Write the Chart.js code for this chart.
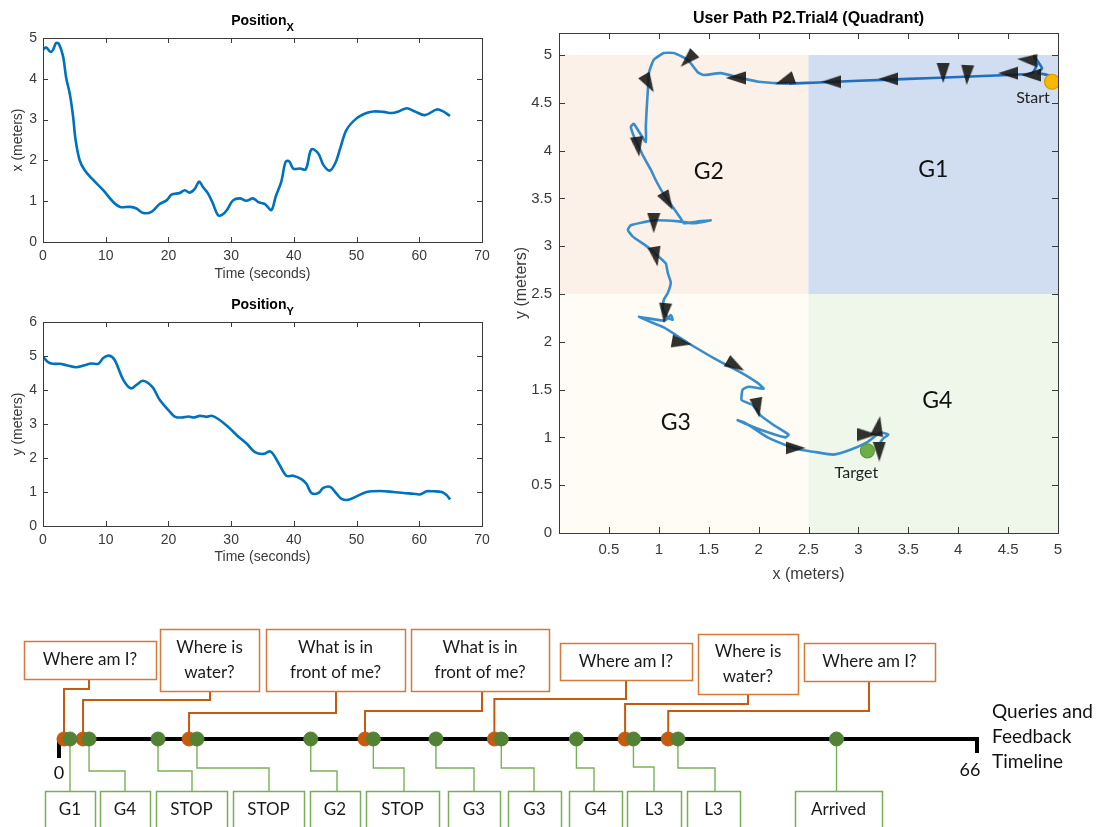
<!DOCTYPE html>
<html><head><meta charset="utf-8">
<script src="https://cdn.jsdelivr.net/npm/chart.js@4.4.1/dist/chart.umd.min.js"></script>
<style>
html,body{margin:0;padding:0;background:#fff;width:1099px;height:827px;overflow:hidden}
.c{position:absolute}
</style></head><body>
<div class="c" style="left:0;top:0;width:500px;height:290px"><canvas id="cx"></canvas></div>
<div class="c" style="left:0;top:290px;width:500px;height:290px"><canvas id="cy"></canvas></div>
<div class="c" style="left:500px;top:0;width:599px;height:600px"><canvas id="cp"></canvas></div>
<div class="c" style="left:0;top:600px;width:1099px;height:227px"><canvas id="ct"></canvas></div>
<script>
// ---------------- DATA ----------------
const timeX = [0,0.5,1.2,1.6,2.1,2.55,3.2,3.7,4.3,4.8,5.2,5.85,6.65,8.0,9.6,11.2,12.3,13.9,14.9,16.0,17.3,18.6,19.7,20.5,21.8,22.6,23.4,24.2,24.9,25.5,26.3,27.1,27.9,28.6,29.4,30.3,31.4,32.4,33.5,34.3,35.4,36.4,37.1,38.0,38.7,39.3,39.9,41.0,41.9,42.8,43.9,44.7,45.7,46.6,47.4,48.4,50.0,51.6,52.7,54.3,55.6,56.7,58.0,59.3,60.9,62.8,63.8,64.9];
const posX = [4.71,4.77,4.66,4.71,4.88,4.85,4.55,4.02,3.61,3.07,2.5,2.0,1.76,1.52,1.27,0.98,0.86,0.86,0.82,0.71,0.74,0.93,1.02,1.16,1.20,1.27,1.21,1.30,1.48,1.35,1.19,0.94,0.66,0.67,0.80,1.02,1.07,1.01,1.07,0.98,0.93,0.78,1.11,1.48,1.97,1.97,1.80,1.80,1.78,2.27,2.17,1.89,1.75,1.93,2.30,2.75,3.03,3.16,3.20,3.19,3.16,3.20,3.28,3.20,3.11,3.25,3.20,3.09];
const timeY = [0,0.8,1.6,2.7,3.7,5.3,6.65,7.7,8.8,9.6,10.5,11.4,12.8,14.0,14.9,15.9,16.8,17.6,18.6,20.0,21.0,22.1,23.2,24.0,25.0,26.1,26.9,28.0,29.5,30.9,32.5,33.8,35.1,36.3,37.5,38.8,39.9,41.2,42.0,42.8,43.9,44.7,45.8,46.8,47.6,48.7,50.0,51.6,53.8,55.9,57.5,59.1,60.1,61.2,62.2,63.6,64.4,64.9];
const posY = [4.98,4.82,4.77,4.77,4.73,4.67,4.73,4.78,4.77,4.94,5.01,4.89,4.30,4.05,4.15,4.27,4.20,4.05,3.71,3.41,3.22,3.19,3.22,3.19,3.24,3.21,3.24,3.14,2.92,2.67,2.42,2.17,2.12,2.19,1.87,1.48,1.48,1.38,1.24,0.97,0.97,1.12,1.15,0.95,0.80,0.77,0.87,1.00,1.03,1.00,0.97,0.95,0.93,1.02,1.02,1.00,0.90,0.78];
const timeTicks = [0,10,20,30,40,50,60,70];

const pathX = [4.93,4.86,4.80,4.84,4.76,4.79,4.74,4.50,4.00,3.50,3.00,2.54,2.30,2.00,1.82,1.62,1.45,1.39,1.29,1.15,1.05,0.95,0.90,0.89,0.88,0.87,0.87,0.80,0.75,0.72,0.75,0.80,0.84,0.92,0.97,1.04,1.14,1.22,1.25,1.40,1.52,1.35,1.20,0.95,0.72,0.69,0.74,0.89,1.00,1.07,1.09,1.12,1.09,1.05,1.04,1.09,1.14,1.12,1.06,0.80,1.05,1.29,1.55,1.82,1.99,2.05,1.90,1.84,1.83,1.94,2.02,2.15,2.30,2.27,2.02,1.79,1.87,2.09,2.32,2.42,2.55,2.75,2.92,3.09,3.22,3.30,3.25,3.22];
const pathY = [4.78,4.80,4.81,4.86,4.99,4.90,4.81,4.79,4.77,4.75,4.73,4.71,4.70,4.72,4.76,4.81,4.79,4.82,4.95,5.02,5.02,4.95,4.81,4.63,4.46,4.25,4.09,4.20,4.28,4.25,4.15,4.04,3.95,3.80,3.69,3.56,3.41,3.29,3.24,3.26,3.27,3.24,3.26,3.27,3.22,3.17,3.10,2.99,2.89,2.82,2.72,2.62,2.51,2.44,2.35,2.25,2.23,2.28,2.22,2.26,2.15,1.99,1.83,1.68,1.57,1.51,1.53,1.50,1.39,1.34,1.23,1.13,1.03,1.00,1.08,1.18,1.15,1.00,0.90,0.87,0.85,0.82,0.87,0.95,1.05,1.03,0.99,0.95];
const arrowX = [4.69,4.73,4.50,4.09,3.85,3.30,2.73,2.26,1.77,1.29,0.90,0.79,1.09,0.95,0.97,1.06,1.23,1.77,1.99,2.37,3.09,3.20,3.21];
const arrowY = [4.95,4.79,4.81,4.79,4.81,4.75,4.72,4.73,4.76,4.95,4.70,4.04,3.47,3.24,2.89,2.30,1.99,1.75,1.31,0.89,1.03,1.12,0.85];
const arrowAngle = [275,270,270,183,180,270,270,250,270,225,150,172,150,180,170,185,100,120,170,90,90,10,180];
const startPoint = [4.94,4.72];
const targetPoint = [3.09,0.86];
const quadBounds = [0,2.5,5];
const quadNames = ['G2','G1','G3','G4'];
const quadLabelX = [1.50,3.75,1.17,3.79];
const quadLabelY = [3.78,3.80,1.15,1.39];

const timelineEnd = 66;
const queryTimes = [0.36,1.73,9.35,22.0,31.3,40.7,43.8];
const queryLabels = ['Where am I?','Where is\nwater?','What is in\nfront of me?','What is in\nfront of me?','Where am I?','Where is\nwater?','Where am I?'];
const feedbackTimes = [0.79,2.16,7.12,9.92,18.1,22.6,27.1,31.8,37.2,41.3,44.5,55.9];
const feedbackLabels = ['G1','G4','STOP','STOP','G2','STOP','G3','G3','G4','L3','L3','Arrived'];

// ---------------- LAYOUT (page px, annotations) ----------------
const queryBoxes = [[24,641,156,679],[160,629,259,691],[266,629,405,691],[411,629,549,691],[560,643,692,680],[698,634,798,694],[804,643,935,681]];
const queryElbows = [[689,89],[700,210],[713,336],[711,482],[699,626],[704,748],[711,869]];
const feedbackBoxes = [[45,95],[100,150],[156,227],[233,304],[310,360],[366,439],[448,500],[508,561],[569,622],[627,681],[687,740],[795,882]];
const feedbackElbows = [null,[771,125],[771,192],[768,269],[771,337],[768,404],[768,474],[768,534],[768,594],[767,654],[768,715],null];

// ---------------- COMMON ----------------
Chart.defaults.font.family = "'Liberation Sans', Arial, sans-serif";
Chart.defaults.color = '#3a3a3a';
Chart.defaults.animation = false;
Chart.defaults.events = [];
Chart.defaults.plugins.legend.display = false;
Chart.defaults.plugins.tooltip.enabled = false;

const fmt = v => String(Number(Number(v).toFixed(2)));

const matlabBox = {
  id: 'matlabBox',
  afterDatasetsDraw(chart, args, o) {
    const {ctx, chartArea: a, scales: {x, y}} = chart;
    const L = o.len || 5;
    ctx.save();
    ctx.strokeStyle = '#3a3a3a'; ctx.lineWidth = 1;
    ctx.beginPath();
    x.ticks.forEach(t => { const p = Math.round(x.getPixelForValue(t.value)) + 0.5;
      ctx.moveTo(p, a.bottom); ctx.lineTo(p, a.bottom - L); ctx.moveTo(p, a.top); ctx.lineTo(p, a.top + L); });
    y.ticks.forEach(t => { const p = Math.round(y.getPixelForValue(t.value)) + 0.5;
      ctx.moveTo(a.left, p); ctx.lineTo(a.left + L, p); ctx.moveTo(a.right, p); ctx.lineTo(a.right - L, p); });
    ctx.stroke();
    ctx.strokeRect(Math.round(a.left) + 0.5, Math.round(a.top) + 0.5, Math.round(a.right - a.left), Math.round(a.bottom - a.top));
    ctx.restore();
  }
};

const subTitle = {
  id: 'subTitle',
  afterDraw(chart, args, o) {
    const {ctx, chartArea: a} = chart;
    ctx.save(); ctx.fillStyle = '#000'; ctx.textAlign = 'left'; ctx.textBaseline = 'alphabetic';
    const f1 = "bold 14px 'Liberation Sans'", f2 = "bold 11px 'Liberation Sans'";
    ctx.font = f1; const w1 = ctx.measureText(o.main).width;
    ctx.font = f2; const w2 = ctx.measureText(o.sub).width;
    const x0 = (a.left + a.right) / 2 - (w1 + w2) / 2;
    ctx.font = f1; ctx.fillText(o.main, x0, o.y);
    ctx.font = f2; ctx.fillText(o.sub, x0 + w1, o.y + 6);
    ctx.restore();
  }
};

function posChart(id, times, vals, ymax, axisLabel, sub, cfg) {
  return new Chart(document.getElementById(id), {
    type: 'scatter',
    data: { datasets: [{ data: times.map((t, i) => ({x: t, y: vals[i]})), showLine: true, borderColor: '#0072BD',
      borderWidth: 2.6, pointRadius: 0, tension: 0.35, fill: false }] },
    options: {
      responsive: true, maintainAspectRatio: false,
      layout: { padding: { top: cfg.top, right: 18, left: 0, bottom: 0 } },
      scales: {
        x: { type: 'linear', min: 0, max: 70,
          afterBuildTicks: s => { s.ticks = timeTicks.map(v => ({value: v})); },
          ticks: { padding: 6, autoSkip: false, maxRotation: 0, font: {size: 14}, color: '#3a3a3a', callback: fmt },
          grid: { display: false, drawTicks: false }, border: { display: false },
          title: { display: true, text: 'Time (seconds)', font: {size: 14}, color: '#3a3a3a', padding: {top: 0, bottom: cfg.xtb} },
          afterFit: s => { s.height = cfg.xh; } },
        y: { type: 'linear', min: 0, max: ymax,
          ticks: { stepSize: 1, padding: 6, autoSkip: false, font: {size: 14}, color: '#3a3a3a', callback: fmt },
          grid: { display: false, drawTicks: false }, border: { display: false },
          title: { display: true, text: axisLabel, font: {size: 14}, color: '#3a3a3a', padding: {top: 10, bottom: 0} },
          afterFit: s => { s.width = 43; } }
      },
      plugins: { matlabBox: { len: 5 }, subTitle: { main: 'Position', sub: sub, y: cfg.ty } }
    },
    plugins: [matlabBox, subTitle]
  });
}

posChart('cx', timeX, posX, 5, 'x (meters)', 'X', { top: 38, xh: 48, xtb: 7, ty: 25 });
posChart('cy', timeY, posY, 6, 'y (meters)', 'Y', { top: 32, xh: 54, xtb: 14, ty: 19 });

// ---------------- PATH CHART ----------------
const arrowImg = (() => {
  const c = document.createElement('canvas'); c.width = 14; c.height = 20;
  const g = c.getContext('2d');
  g.fillStyle = 'rgba(22,20,18,0.88)';
  g.beginPath(); g.moveTo(7, 0); g.lineTo(13.5, 20); g.lineTo(0.5, 20); g.closePath(); g.fill();
  return c;
})();

const quadPlugin = {
  id: 'quad',
  beforeDatasetsDraw(chart) {
    const {ctx, scales: {x, y}} = chart;
    const cols = ['#FBF1E8', '#D1DDF1', '#FEFCF4', '#EFF6EA'];
    const [b0, b1, b2] = quadBounds;
    const rects = [[b0, b1, b1, b2], [b1, b2, b1, b2], [b0, b1, b0, b1], [b1, b2, b0, b1]];
    ctx.save();
    rects.forEach((r, i) => {
      const x0 = x.getPixelForValue(r[0]), x1 = x.getPixelForValue(r[1]);
      const y0 = y.getPixelForValue(r[3]), y1 = y.getPixelForValue(r[2]);
      ctx.fillStyle = cols[i]; ctx.fillRect(x0, y0, x1 - x0, y1 - y0);
    });
    ctx.fillStyle = '#111'; ctx.font = "23px Lato"; ctx.textAlign = 'center'; ctx.textBaseline = 'middle';
    quadNames.forEach((n, i) => ctx.fillText(n, x.getPixelForValue(quadLabelX[i]), y.getPixelForValue(quadLabelY[i])));
    ctx.restore();
  },
  afterDatasetsDraw(chart) {
    const {ctx, scales: {x, y}} = chart;
    ctx.save(); ctx.fillStyle = '#222'; ctx.font = "16px Lato"; ctx.textAlign = 'center'; ctx.textBaseline = 'middle';
    ctx.fillText('Start', x.getPixelForValue(startPoint[0]) - 19, y.getPixelForValue(startPoint[1]) + 16);
    ctx.fillText('Target', x.getPixelForValue(targetPoint[0]) - 11, y.getPixelForValue(targetPoint[1]) + 22);
    ctx.font = "bold 16px 'Liberation Sans'"; ctx.fillStyle = '#000'; ctx.textBaseline = 'alphabetic';
    const a = chart.chartArea;
    ctx.fillText('User Path P2.Trial4 (Quadrant)', (a.left + a.right) / 2, 23);
    ctx.restore();
  }
};

new Chart(document.getElementById('cp'), {
  type: 'scatter',
  data: { datasets: [
    { data: arrowX.map((v, i) => ({x: v, y: arrowY[i]})), pointStyle: arrowImg, pointRotation: arrowAngle, pointRadius: 10 },
    { data: [{x: startPoint[0], y: startPoint[1]}], pointRadius: 7.5, backgroundColor: '#F6B800', borderColor: '#D49A00', borderWidth: 1.2 },
    { data: [{x: targetPoint[0], y: targetPoint[1]}], pointRadius: 7, backgroundColor: '#70AD47', borderColor: '#5B9A3A', borderWidth: 1.2 },
    { data: pathX.map((v, i) => ({x: v, y: pathY[i]})), showLine: true, pointRadius: 0, borderWidth: 2.6, tension: 0.15,
      borderColor: '#3A8DCB',
      segment: { borderColor: c => (c.p0.parsed.x > 2.5 && c.p0.parsed.y > 2.5 ? '#1F6FC1' : '#3A8DCB') } }
  ] },
  options: {
    responsive: true, maintainAspectRatio: false,
    layout: { padding: { top: 33, right: 41, left: 0, bottom: 0 } },
    scales: {
      x: { type: 'linear', min: 0, max: 5,
        afterBuildTicks: s => { s.ticks = s.ticks.filter(t => t.value > 0.001 && t.value <= 5.0001); },
        ticks: { stepSize: 0.5, padding: 8, autoSkip: false, maxRotation: 0, font: {size: 15}, color: '#3a3a3a', callback: fmt },
        grid: { display: false, drawTicks: false }, border: { display: false },
        title: { display: true, text: 'x (meters)', font: {size: 16}, color: '#3a3a3a', padding: {top: 0, bottom: 16} },
        afterFit: s => { s.height = 67; } },
      y: { type: 'linear', min: 0, max: 5.23,
        afterBuildTicks: s => { s.ticks = s.ticks.filter(t => t.value <= 5.0001); },
        ticks: { stepSize: 0.5, padding: 7, autoSkip: false, font: {size: 15}, color: '#3a3a3a', callback: fmt },
        grid: { display: false, drawTicks: false }, border: { display: false },
        title: { display: true, text: 'y (meters)', font: {size: 16}, color: '#3a3a3a', padding: {top: 12, bottom: 0} },
        afterFit: s => { s.width = 59; } }
    },
    plugins: { matlabBox: { len: 6 } }
  },
  plugins: [quadPlugin, matlabBox]
});

// ---------------- TIMELINE ----------------
const TOP = 600;
const timelinePlugin = {
  id: 'timeline',
  beforeDatasetsDraw(chart) {
    const {ctx, scales: {x, y}} = chart;
    const ly = y.getPixelForValue(0.5);
    const x0 = x.getPixelForValue(0), x1 = x.getPixelForValue(timelineEnd);
    ctx.save();
    ctx.textAlign = 'center'; ctx.textBaseline = 'middle';
    queryTimes.forEach((t, i) => {
      const px = x.getPixelForValue(t), b = queryBoxes[i], e = queryElbows[i];
      ctx.strokeStyle = '#C55A11'; ctx.lineWidth = 2;
      ctx.beginPath(); ctx.moveTo(px, ly); ctx.lineTo(px, e[0] - TOP); ctx.lineTo(e[1], e[0] - TOP); ctx.lineTo(e[1], b[3] - TOP); ctx.stroke();
      ctx.fillStyle = '#fff'; ctx.fillRect(b[0], b[1] - TOP, b[2] - b[0], b[3] - b[1]);
      ctx.strokeStyle = '#D8793A'; ctx.lineWidth = 1.5;
      ctx.strokeRect(b[0] + 0.5, b[1] - TOP + 0.5, b[2] - b[0], b[3] - b[1]);
      ctx.fillStyle = '#1a1a1a'; ctx.font = '17px Lato';
      const lines = queryLabels[i].split('\n'), cy = (b[1] + b[3]) / 2 - TOP, lh = 25;
      lines.forEach((s, k) => ctx.fillText(s, (b[0] + b[2]) / 2, cy + (k - (lines.length - 1) / 2) * lh));
    });
    feedbackTimes.forEach((t, i) => {
      const px = x.getPixelForValue(t), b = feedbackBoxes[i], e = feedbackElbows[i];
      ctx.strokeStyle = '#79B157'; ctx.lineWidth = 1.4;
      ctx.beginPath(); ctx.moveTo(px, ly);
      if (e) { ctx.lineTo(px, e[0] - TOP); ctx.lineTo(e[1], e[0] - TOP); ctx.lineTo(e[1], 791 - TOP); }
      else { ctx.lineTo(px, 791 - TOP); }
      ctx.stroke();
      ctx.strokeStyle = '#78AE55'; ctx.lineWidth = 1.5;
      ctx.strokeRect(b[0] + 0.5, 791 - TOP + 0.5, b[1] - b[0], 60);
      ctx.fillStyle = '#1a1a1a'; ctx.font = '17px Lato';
      ctx.fillText(feedbackLabels[i], (b[0] + b[1]) / 2, 810 - TOP);
    });
    ctx.strokeStyle = '#000'; ctx.lineWidth = 4; ctx.lineJoin = 'miter'; ctx.lineCap = 'butt';
    ctx.beginPath(); ctx.moveTo(x0, ly + 19); ctx.lineTo(x0, ly); ctx.lineTo(x1, ly); ctx.lineTo(x1, ly + 14); ctx.stroke();
    ctx.fillStyle = '#111'; ctx.font = '18px Lato';
    ctx.fillText('0', x0, 773 - TOP);
    ctx.fillText(String(timelineEnd), x1 - 7, 770 - TOP);
    ctx.textAlign = 'left';
    ctx.font = '19px Lato';
    ['Queries and', 'Feedback', 'Timeline'].forEach((s, k) => ctx.fillText(s, 992, 712 + k * 25 - TOP));
    ctx.restore();
  }
};

new Chart(document.getElementById('ct'), {
  type: 'scatter',
  data: { datasets: [
    { data: feedbackTimes.map(t => ({x: t, y: 0.5})), pointRadius: 7, backgroundColor: '#548235', borderColor: '#548235', borderWidth: 1, clip: false },
    { data: queryTimes.map(t => ({x: t, y: 0.5})), pointRadius: 7, backgroundColor: '#C55A11', borderColor: '#C55A11', borderWidth: 1, clip: false }
  ] },
  options: {
    responsive: true, maintainAspectRatio: false,
    layout: { padding: { left: 59, right: 122, top: 119, bottom: 68 } },
    scales: { x: { type: 'linear', min: 0, max: timelineEnd, display: false }, y: { min: 0, max: 1, display: false } }
  },
  plugins: [timelinePlugin]
});
</script>
</body></html>
